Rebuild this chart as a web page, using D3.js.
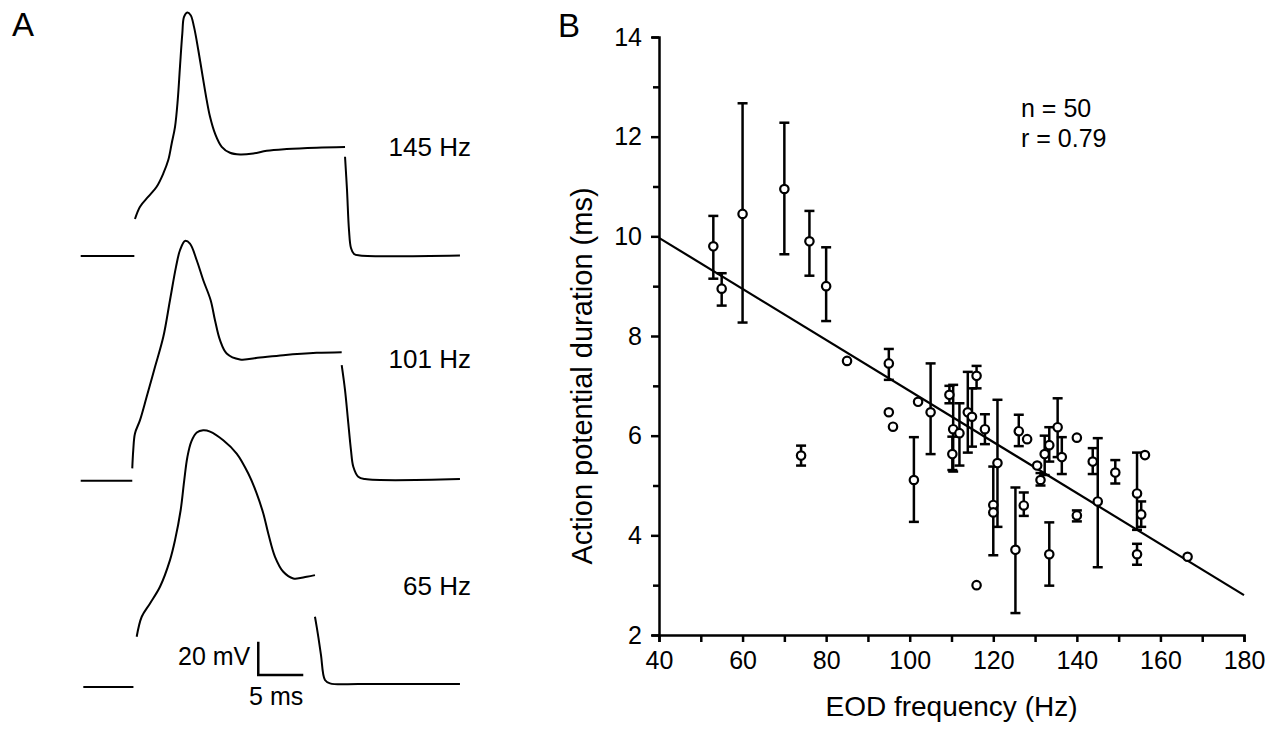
<!DOCTYPE html>
<html>
<head>
<meta charset="utf-8">
<script src="https://cdn.jsdelivr.net/npm/d3@7"></script>
<style>
  body { margin: 0; background: #fff; }
  svg { display: block; font-family: "Liberation Sans", Arial, Helvetica, sans-serif; }
  .axis path, .axis line { stroke: #000; stroke-width: 2.5; }
  .axis text { font-size: 25px; fill: #000; }
</style>
</head>
<body>
<svg id="chart" width="1273" height="732"></svg>
<script>
// ---- Panel A: recorded traces, time (ms) and voltage (mV above each trace's baseline)
const trace145 = [
  [[0, 0], [5.96, 0]],
  [[6.03, 22.2], [6.59, 29.6], [7.51, 35.6], [8.44, 41.6], [9.18, 49.6], [9.73, 57.6], [10.11, 67.6],
   [10.48, 77.6], [10.78, 93.6], [11.03, 113.6], [11.29, 133.6], [11.48, 143.6], [11.84, 146.2],
   [12.22, 144.6], [12.59, 137.6], [13.07, 123.6], [13.56, 107.6], [14.0, 93.6], [14.37, 83.6],
   [14.92, 73.6], [15.67, 65.6], [16.59, 62.0], [17.7, 61.0], [19.18, 61.6], [20.67, 63.2],
   [22.89, 64.2], [26.22, 65.0], [29.37, 65.4]],
  [[29.37, 59.6], [29.59, 39.6], [29.81, 15.6], [30.03, 4.8], [30.37, 1.2], [31.03, 0.3], [42.14, 0.3]]
];
const trace101 = [
  [[0, 0], [5.73, 0]],
  [[5.73, 7.4], [5.84, 18.4], [6.03, 28.4], [6.59, 36.4], [7.33, 50.4], [8.26, 68.4], [9.18, 86.4],
   [9.92, 108.4], [10.59, 128.4], [11.03, 138.4], [11.59, 144.0], [12.14, 142.4], [12.89, 132.4],
   [13.62, 120.4], [14.44, 108.4], [14.92, 96.4], [15.48, 84.4], [16.22, 76.4], [17.7, 72.8],
   [19.92, 74.0], [22.51, 75.4], [26.22, 76.8], [29.0, 77.2]],
  [[29.0, 69.4], [29.37, 54.4], [29.7, 36.4], [30.03, 18.4], [30.29, 8.4], [30.84, 2.4], [31.59, 1.0], [42.14, 1.0]]
];
const trace65 = [
  [[0.29, 0], [5.86, 0]],
  [[6.22, 30.2], [6.78, 42.2], [7.7, 50.2], [8.81, 60.2], [9.92, 76.2], [10.48, 88.2], [11.1, 106],
   [11.5, 124], [11.85, 138], [12.3, 147.5], [12.9, 152.8], [13.6, 154.2], [14.37, 153.4], [15.84, 148.2],
   [17.33, 140.2], [18.62, 128.2], [19.56, 116.2], [20.29, 104.2], [20.84, 92.2], [21.59, 78.2],
   [22.51, 69.2], [23.62, 65.2], [25.11, 66.2], [26.03, 67.2]],
  [[26.03, 42.2], [26.37, 31.2], [26.7, 19.2], [27.14, 4.2], [27.7, 2.2], [31.03, 1.8], [42.14, 1.8]]
];
const traceLabels = ["145 Hz", "101 Hz", "65 Hz"];
const scaleBarMs = 5, scaleBarMv = 20;

// ---- Panel B: action potential duration vs EOD frequency
const eodFreq = [53, 55, 60, 70, 76, 80, 85, 95, 95, 96, 102, 74, 101, 105, 109.5, 110.4, 110.2, 111.9,
  113.9, 114.9, 116, 118, 116, 121, 120, 120, 125.3, 127.3, 126.1, 128.1, 133.4, 130.5, 131.3, 132.3,
  133.4, 135.4, 136.4, 140, 140, 143.8, 145, 149.2, 154.4, 155.4, 156.3, 154.4, 166.5];
const apDuration = [9.8, 8.95, 10.45, 10.95, 9.9, 9.0, 7.5, 7.45, 6.47, 6.18, 6.68, 5.6, 5.11, 6.47, 6.82,
  6.13, 5.63, 6.05, 6.47, 6.38, 7.2, 6.13, 3.0, 5.45, 4.61, 4.46, 3.71, 4.6, 6.09, 5.93, 3.62, 5.4, 5.11,
  5.63, 5.81, 6.17, 5.57, 5.96, 4.4, 5.48, 4.68, 5.26, 4.84, 4.42, 5.61, 3.62, 3.57];
const errLow = [9.15, 8.61, 8.27, 9.64, 9.21, 8.3, null, 7.12, null, null, null, 5.4, 4.27, 5.63, 6.65,
  5.28, 5.31, 5.4, 5.66, 5.78, 6.95, 5.83, null, 4.17, 3.6, null, 2.44, 4.39, 5.79, null, 2.99, null, 5.0,
  5.21, 5.48, 5.57, 5.23, null, 4.28, 5.23, 3.36, 5.04, 4.11, 4.17, null, 3.41, null];
const errHigh = [10.41, 9.26, 12.67, 12.28, 10.51, 9.78, null, 7.74, null, null, null, 5.8, 5.97, 7.45, 7.0,
  7.02, 5.98, 6.65, 7.28, 6.95, 7.4, 6.43, null, 6.72, 5.38, null, 4.96, 4.86, 6.42, null, 4.26, null, 5.25,
  6.0, 6.17, 6.75, 5.97, null, 4.5, 5.75, 5.95, 5.51, 5.66, 4.68, null, 3.83, null];
const fitFreq = [40, 180];
const fitDuration = [9.97, 2.8];
const xTicks = d3.range(40, 181, 10);
const yTicks = d3.range(2, 15, 1);
const statsText = ["n = 50", "r = 0.79"];

const svg = d3.select("#chart");
svg.append("rect").attr("width", 1273).attr("height", 732).attr("fill", "#fff");

// ---------- Panel A ----------
svg.append("text").attr("x", 12).attr("y", 36).attr("font-size", 33).text("A");

const tScale = d3.scaleLinear().domain([0, 5]).range([80.7, 125.7]);
const traceBases = [256, 480.7, 687];
const traces = [trace145, trace101, trace65];
const labelY = [156, 368, 595];

traces.forEach((segs, i) => {
  const vScale = d3.scaleLinear().domain([0, 20]).range([traceBases[i], traceBases[i] - 33.3]);
  const line = d3.line().x(p => tScale(p[0])).y(p => vScale(p[1])).curve(d3.curveCatmullRom);
  svg.append("g").selectAll("path")
    .data(segs)
    .enter().append("path")
    .attr("d", line)
    .attr("fill", "none")
    .attr("stroke", "#000")
    .attr("stroke-width", 2);

  svg.append("text")
    .attr("x", 471).attr("y", labelY[i])
    .attr("text-anchor", "end")
    .attr("font-size", 26)
    .text(traceLabels[i]);
});

// scale bar, placed in the frame of the lowest trace
const v65 = d3.scaleLinear().domain([0, 20]).range([traceBases[2], traceBases[2] - 33.3]);
const barT = 19.73, barV = 7.2;
svg.append("path")
  .attr("d", `M${tScale(barT)},${v65(barV + scaleBarMv)}V${v65(barV)}H${tScale(barT + scaleBarMs)}`)
  .attr("fill", "none").attr("stroke", "#000").attr("stroke-width", 2.5);
svg.append("text").attr("x", tScale(barT) - 8).attr("y", 665)
  .attr("text-anchor", "end").attr("font-size", 25).text(scaleBarMv + " mV");
svg.append("text").attr("x", tScale(barT + scaleBarMs)).attr("y", 705)
  .attr("text-anchor", "end").attr("font-size", 25).text(scaleBarMs + " ms");

// ---------- Panel B ----------
svg.append("text").attr("x", 558).attr("y", 37).attr("font-size", 33).text("B");

const x = d3.scaleLinear().domain([40, 180]).range([659, 1244]);
const y = d3.scaleLinear().domain([2, 14]).range([635, 37]);

svg.append("g").attr("class", "axis")
  .attr("transform", `translate(0,${y(2)})`)
  .call(d3.axisBottom(x).tickValues(xTicks).tickSizeOuter(0).tickSize(7).tickPadding(9)
    .tickFormat(d => d % 20 === 0 ? d : ""));
const yAxis = svg.append("g").attr("class", "axis")
  .attr("transform", `translate(${x(40)},0)`)
  .call(d3.axisLeft(y).tickValues(yTicks).tickSizeOuter(0).tickSize(7).tickPadding(10)
    .tickFormat(d => d % 2 === 0 ? d : ""));
yAxis.selectAll(".tick line").attr("x2", d => d % 2 === 0 ? -8 : -6);

svg.append("text")
  .attr("x", (x(40) + x(180)) / 2).attr("y", 716)
  .attr("text-anchor", "middle").attr("font-size", 28)
  .text("EOD frequency (Hz)");
svg.append("text")
  .attr("transform", `translate(592,${(y(2) + y(14)) / 2 + 40}) rotate(-90)`)
  .attr("text-anchor", "middle").attr("font-size", 29)
  .text("Action potential duration (ms)");

statsText.forEach((t, i) => {
  svg.append("text").attr("x", 1021).attr("y", 117 + i * 30).attr("font-size", 25).text(t);
});

// regression line
svg.append("line")
  .attr("x1", x(fitFreq[0])).attr("y1", y(fitDuration[0]))
  .attr("x2", x(fitFreq[1])).attr("y2", y(fitDuration[1]))
  .attr("stroke", "#000").attr("stroke-width", 2.2);

const points = eodFreq.map((f, i) => ({ f, d: apDuration[i], lo: errLow[i], hi: errHigh[i] }));
const withErr = points.filter(p => p.lo !== null);

const eb = svg.append("g").attr("stroke", "#000").attr("stroke-width", 2.5);
eb.selectAll(".bar").data(withErr).enter().append("line")
  .attr("x1", p => x(p.f)).attr("x2", p => x(p.f))
  .attr("y1", p => y(p.lo)).attr("y2", p => y(p.hi));
eb.selectAll(".capHi").data(withErr).enter().append("line")
  .attr("x1", p => x(p.f) - 5).attr("x2", p => x(p.f) + 5)
  .attr("y1", p => y(p.hi)).attr("y2", p => y(p.hi));
eb.selectAll(".capLo").data(withErr).enter().append("line")
  .attr("x1", p => x(p.f) - 5).attr("x2", p => x(p.f) + 5)
  .attr("y1", p => y(p.lo)).attr("y2", p => y(p.lo));

svg.append("g").selectAll("circle").data(points).enter().append("circle")
  .attr("cx", p => x(p.f)).attr("cy", p => y(p.d)).attr("r", 4.2)
  .attr("fill", "#fff").attr("stroke", "#000").attr("stroke-width", 2.2);
</script>
</body>
</html>
